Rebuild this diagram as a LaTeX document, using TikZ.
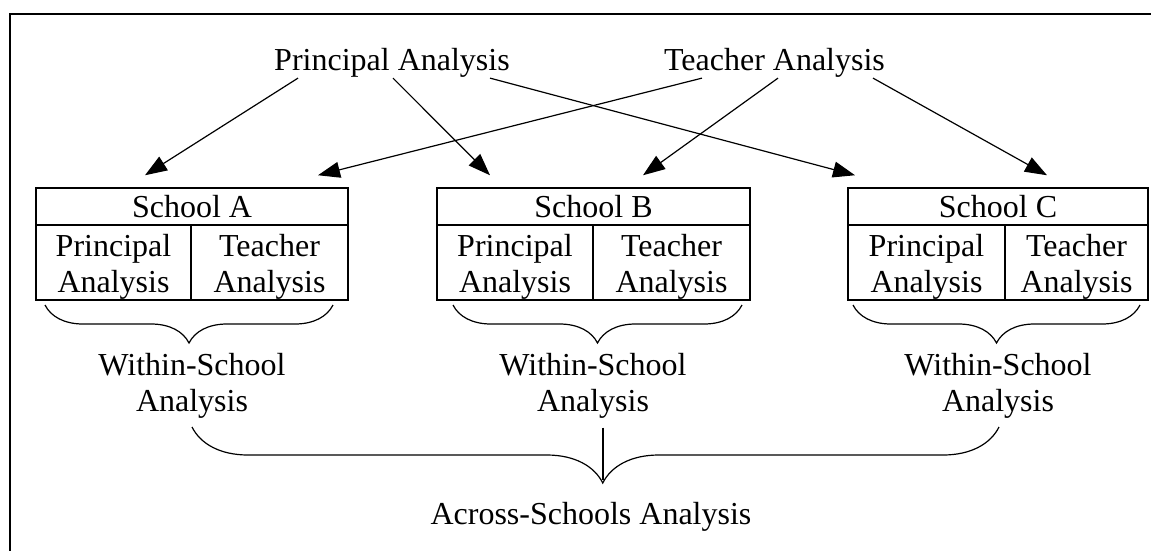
\documentclass[tikz,border=0pt]{standalone}
\usepackage{fontspec}
\setmainfont{Liberation Serif}
\usetikzlibrary{arrows.meta,decorations.pathreplacing}

\begin{document}
\begin{tikzpicture}[x=1pt,y=-1pt,
		font=\fontsize{32}{36}\selectfont,
		hdr/.style={draw,line width=1.5pt,inner sep=0pt,minimum height=37pt},
		cell/.style={draw,line width=1.5pt,inner sep=0pt,minimum height=75pt,align=center},
		arr/.style={-{Triangle[length=22pt,width=16pt]},line width=1.2pt},
		brc/.style={decorate,decoration={brace,mirror,amplitude=#1},line width=1.2pt}]
	\useasboundingbox (0,0) rectangle (1151,550);
	\draw[line width=2pt] (9.5,560) -- (9.5,14) -- (1160,14);
	% the two kinds of analysis on top
	\node[anchor=base,inner sep=1pt] (pa) at (392,70) {Principal Analysis};
	\node[anchor=base,inner sep=1pt] (ta) at (774.5,70) {Teacher Analysis};
	% schools
	\foreach \s/\l/\m/\r/\w/\ba/\bb in {A/36/191/348/192/45/333,B/437/593/750/593/453/742,C/848/1005/1148/998/853/1140}{
		\node[hdr,minimum width=\r-\l] (hd\s) at ({(\l+\r)/2},206.5) {School \s};
		\node[cell,minimum width=\m-\l] (pr\s) at ({(\l+\m)/2},262.5) {\rule{0pt}{31pt}Principal\\Analysis};
		\node[cell,minimum width=\r-\m] (te\s) at ({(\m+\r)/2},262.5) {\rule{0pt}{31pt}Teacher\\Analysis};
		\draw[brc=38pt] (\ba,305) -- (\bb,305);
		\node[align=center,anchor=north,inner sep=0pt] (ws\s) at (\w,353) {Within-School\\Analysis};
	}
	\draw[arr] ([xshift=-94pt]pa.south) -- ([xshift=-47pt,yshift=12pt]hdA.north);
	\draw[arr] ([xshift=1pt]pa.south) -- ([xshift=-103.5pt,yshift=12pt]hdB.north);
	\draw[arr] ([xshift=98pt]pa.south) -- ([xshift=-143pt,yshift=12pt]hdC.north);
	\draw[arr] ([xshift=-72.5pt]ta.south) -- ([xshift=126pt,yshift=12pt]hdA.north);
	\draw[arr] ([xshift=3.5pt]ta.south) -- ([xshift=49.5pt,yshift=12pt]hdB.north);
	\draw[arr] ([xshift=98.5pt]ta.south) -- ([xshift=49pt,yshift=12pt]hdC.north);
	% across schools
	\draw[brc=56pt,decoration={aspect=0.509}] (192,427) -- (999,427);
	\coordinate (tip) at (603,480);
	\draw[line width=1.2pt] ([xshift=10pt,yshift=-9pt]wsB.south) -- (tip);
	\node[anchor=base] (as) at (591,524) {Across-Schools Analysis};
\end{tikzpicture}
\end{document}
